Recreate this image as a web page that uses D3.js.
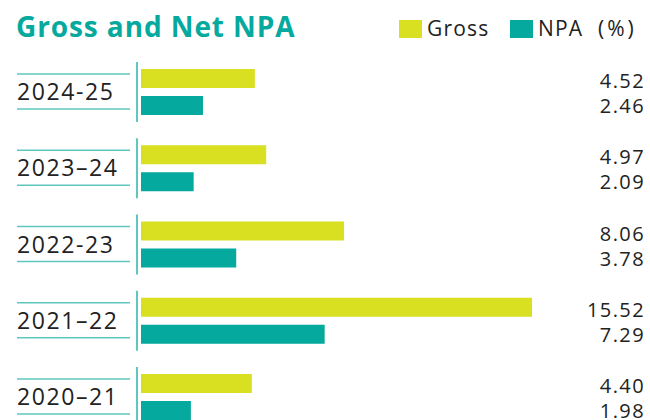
<!DOCTYPE html>
<html lang="en">
<head>
<meta charset="UTF-8">
<title>Gross and Net NPA</title>
<script src="https://cdn.jsdelivr.net/npm/d3@7"></script>
<style>
  body { margin: 0; background: #fff; }
  text { font-family: "Open Sans", sans-serif; }
</style>
</head>
<body>
<div class="chart"></div>
<script>
  const years = ['2024-25', '2023\u201324', '2022-23', '2021\u201322', '2020\u201321']
  const gross = [4.52, 4.97, 8.06, 15.52, 4.40]
  const npa = [2.46, 2.09, 3.78, 7.29, 1.98]
  const legendLabels = ['Gross', 'NPA']

  const width = 650
  const height = 420
  const yellow = '#d9e021'
  const teal = '#05a99d'
  const lineTeal = '#5ec8bf'

  const svg = d3.select('.chart')
    .append('svg')
    .attr('width', width)
    .attr('height', height)

  const xScale = d3.scaleLinear()
    .domain([0, 15.52])
    .range([141, 532])

  const yScale = d3.scaleBand()
    .domain(years)
    .range([62, 62 + 76.25 * years.length])

  // title
  svg.append('text')
    .attr('x', 16)
    .attr('y', 37)
    .attr('fill', teal)
    .attr('font-size', '28px')
    .attr('font-weight', 'bold')
    .attr('letter-spacing', 0.9)
    .text('Gross and Net NPA')

  // legend
  const legend = svg.append('g')
  const legendX = [399, 510]
  legendLabels.forEach((l, i) => {
    legend.append('rect')
      .attr('x', legendX[i]).attr('y', 20)
      .attr('width', 23).attr('height', 18)
      .attr('fill', i === 0 ? yellow : teal)
    legend.append('text')
      .attr('x', legendX[i] + 28).attr('y', 36)
      .attr('font-size', '21px').attr('fill', '#222')
      .attr('letter-spacing', 1.2)
      .text(l)
  })
  legend.append('text')
    .attr('x', 598).attr('y', 36)
    .attr('font-size', '21px').attr('fill', '#222')
    .attr('letter-spacing', 3)
    .text('(%)')

  const rows = years.map((y, i) => ({ year: y, gross: gross[i], npa: npa[i] }))

  const groups = svg.selectAll('.row')
    .data(rows)
    .enter()
    .append('g')
    .attr('class', 'row')
    .attr('transform', d => `translate(0, ${yScale(d.year)})`)

  groups.append('line')
    .attr('x1', 137).attr('x2', 137)
    .attr('y1', 0).attr('y2', 60)
    .attr('stroke', lineTeal).attr('stroke-width', 2)

  groups.selectAll('.hline')
    .data([12, 47])
    .enter()
    .append('line')
    .attr('class', 'hline')
    .attr('x1', 17).attr('x2', 130)
    .attr('y1', d => d).attr('y2', d => d)
    .attr('stroke', lineTeal).attr('stroke-width', 1.5)

  groups.append('text')
    .attr('x', 17).attr('y', 38)
    .attr('font-size', '23px').attr('fill', '#222')
    .attr('letter-spacing', 1.6)
    .text(d => d.year)

  groups.append('rect')
    .attr('x', xScale(0)).attr('y', 7)
    .attr('width', d => xScale(d.gross) - xScale(0)).attr('height', 19)
    .attr('fill', yellow)

  groups.append('rect')
    .attr('x', xScale(0)).attr('y', 34)
    .attr('width', d => xScale(d.npa) - xScale(0)).attr('height', 19)
    .attr('fill', teal)

  groups.append('text')
    .attr('x', 645).attr('y', 26)
    .attr('text-anchor', 'end')
    .attr('font-size', '20px').attr('fill', '#222')
    .attr('letter-spacing', 1.4)
    .text(d => d.gross.toFixed(2))

  groups.append('text')
    .attr('x', 645).attr('y', 51)
    .attr('text-anchor', 'end')
    .attr('font-size', '20px').attr('fill', '#222')
    .attr('letter-spacing', 1.4)
    .text(d => d.npa.toFixed(2))
</script>
</body>
</html>
